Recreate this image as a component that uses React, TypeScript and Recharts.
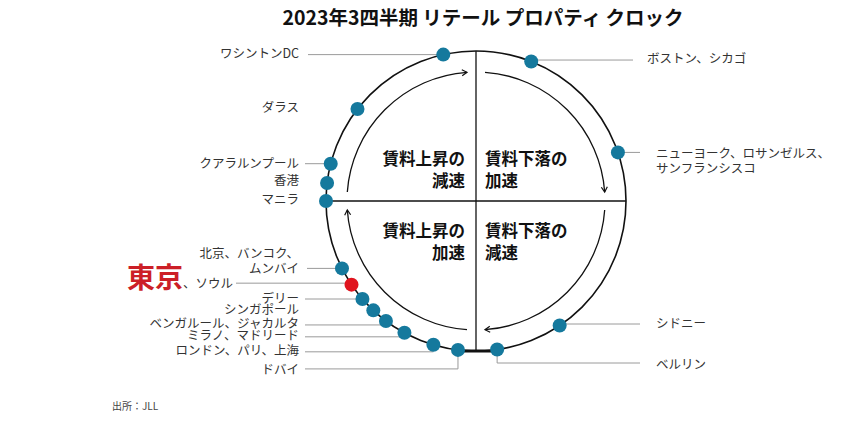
import React from 'react';
import { ScatterChart, Scatter, XAxis, YAxis } from 'recharts';

// city groups, clockwise from 12 o'clock
const CITY_NAMES = [
  'ボストン、シカゴ',
  'ニューヨーク、ロサンゼルス、サンフランシスコ',
  'シドニー',
  'ベルリン',
  'ドバイ',
  'ロンドン、パリ、上海',
  'ミラノ、マドリード',
  'ベンガルール、ジャカルタ',
  'シンガポール',
  'デリー',
  '東京、ソウル',
  '北京、バンコク、ムンバイ',
  'マニラ',
  '香港',
  'クアラルンプール',
  'ダラス',
  'ワシントンDC',
];
// position on the clock face, in hours (0-12)
const CLOCK_HOURS = [0.72, 2.37, 4.87, 5.73, 6.23, 6.55, 6.95, 7.23, 7.44, 7.64, 7.87, 8.11, 9.0, 9.23, 9.48, 10.26, 11.58];
const HIGHLIGHT = '東京、ソウル';

const QUADRANTS = [
  ['賃料上昇の', '減速'],
  ['賃料下落の', '加速'],
  ['賃料上昇の', '加速'],
  ['賃料下落の', '減速'],
];
const TITLE = '2023年3四半期 リテール プロパティ クロック';
const SOURCE = '出所：JLL';

const W = 842;
const H = 423;
const CX = 476;
const CY = 201;
const R = 150;
const INNER_R = 129;
const FONT = "'Noto Sans CJK JP', 'Noto Sans', sans-serif";
const DOT = '#15799d';
const RED = '#e0141e';
const LEADER = '#9a9a9a';
const LEFT_TEXT_X = 299;
const RIGHT_TEXT_X = 656;

type Layout = {
  side: 'L' | 'R';
  lines: string[];
  textDy: number;
  textX?: number;
  lineDy?: number;
  lineX?: number;
  bend?: number;
  accent?: string;
};

const LAYOUT: Record<string, Layout> = {
  'ワシントンDC': { side: 'L', lines: ['ワシントンDC'], textDy: -2.5, lineDy: 0, lineX: 308 },
  'ボストン、シカゴ': { side: 'R', lines: ['ボストン、シカゴ'], textX: 647, textDy: -4, lineDy: -1.5, lineX: 633 },
  'ニューヨーク、ロサンゼルス、サンフランシスコ': {
    side: 'R',
    lines: ['ニューヨーク、ロサンゼルス、', 'サンフランシスコ'],
    textDy: 0,
    lineDy: 0,
    lineX: 640,
  },
  'シドニー': { side: 'R', lines: ['シドニー'], textDy: -3, lineDy: -1.5, lineX: 640 },
  'ベルリン': { side: 'R', lines: ['ベルリン'], textDy: 13.5, bend: 13.5, lineX: 640 },
  'ドバイ': { side: 'L', lines: ['ドバイ'], textDy: 19, bend: 19, lineX: 305 },
  'ロンドン、パリ、上海': { side: 'L', lines: ['ロンドン、パリ、上海'], textDy: 5, lineDy: 7, lineX: 305 },
  'ミラノ、マドリード': { side: 'L', lines: ['ミラノ、マドリード'], textDy: 2, lineDy: 4, lineX: 305 },
  'ベンガルール、ジャカルタ': { side: 'L', lines: ['ベンガルール、ジャカルタ'], textDy: 2, lineDy: 4, lineX: 305 },
  'シンガポール': { side: 'L', lines: ['シンガポール'], textDy: -2 },
  'デリー': { side: 'L', lines: ['デリー'], textDy: -2, lineDy: 0, lineX: 305 },
  '東京、ソウル': { side: 'L', lines: ['、ソウル'], accent: '東京', textX: 233, textDy: 3.5, lineDy: -1.5, lineX: 236 },
  '北京、バンコク、ムンバイ': { side: 'L', lines: ['北京、バンコク、', 'ムンバイ'], textDy: -16, lineDy: 0, lineX: 307 },
  'マニラ': { side: 'L', lines: ['マニラ'], textDy: -3 },
  '香港': { side: 'L', lines: ['香港'], textDy: -3 },
  'クアラルンプール': { side: 'L', lines: ['クアラルンプール'], textDy: -1.5, lineDy: 0, lineX: 305 },
  'ダラス': { side: 'L', lines: ['ダラス'], textDy: -3 },
};

const points = CITY_NAMES.map((name, i) => {
  const a = (CLOCK_HOURS[i] / 12) * 2 * Math.PI;
  return { name, hour: CLOCK_HOURS[i], x: Math.sin(a), y: Math.cos(a) };
});

const ClockFrame = (props: any) => {
  const { cx, cy } = props;
  const pt = (r: number, deg: number) => {
    const a = (deg * Math.PI) / 180;
    return [cx + r * Math.sin(a), cy - r * Math.cos(a)];
  };
  const arcs = [0, 90, 180, 270].map((q) => {
    const [x1, y1] = pt(INNER_R, q + 4);
    const [x2, y2] = pt(INNER_R, q + 86);
    return `M${x1},${y1} A${INNER_R},${INNER_R} 0 0 1 ${x2},${y2}`;
  });
  const qText = { fontFamily: FONT, fontSize: 16.5, fontWeight: 700, fill: '#111' };
  const qPos = [
    { x: cx - 11, y: cy - 43, anchor: 'end' },
    { x: cx + 9, y: cy - 43, anchor: 'start' },
    { x: cx - 11, y: cy + 29, anchor: 'end' },
    { x: cx + 9, y: cy + 29, anchor: 'start' },
  ];
  return (
    <g>
      <defs>
        <marker id="clock-arrow" markerWidth={8} markerHeight={8} refX={6} refY={4} orient="auto" markerUnits="userSpaceOnUse">
          <path d="M1,1 L6,4 L1,7" fill="none" stroke="#111" strokeWidth={1.2} />
        </marker>
      </defs>
      <circle cx={cx} cy={cy} r={R} fill="none" stroke="#111" strokeWidth={1.6} />
      <line x1={cx} y1={cy - R} x2={cx} y2={cy + R} stroke="#111" strokeWidth={1.3} />
      <line x1={cx - R} y1={cy} x2={cx + R} y2={cy} stroke="#111" strokeWidth={1.3} />
      <line x1={cx - 16} y1={cy + R} x2={cx + 19} y2={cy + R} stroke="#111" strokeWidth={3} />
      {arcs.map((d, i) => (
        <path key={i} d={d} fill="none" stroke="#111" strokeWidth={1.3} markerEnd="url(#clock-arrow)" />
      ))}
      {QUADRANTS.map((lines, i) => (
        <text key={i} textAnchor={qPos[i].anchor as any} {...qText}>
          {lines.map((t, j) => (
            <tspan key={j} x={qPos[i].x} y={qPos[i].y + j * 22} dominantBaseline="central">
              {t}
            </tspan>
          ))}
        </text>
      ))}
    </g>
  );
};

const CityLabel = (props: any) => {
  const { cx, cy, payload } = props;
  const lay = LAYOUT[payload.name];
  if (!lay) return <g />;
  const left = lay.side === 'L';
  const tx = lay.textX ?? (left ? LEFT_TEXT_X : RIGHT_TEXT_X);
  const txt = { fontFamily: FONT, fontSize: 12.5, fill: '#333' };
  let leader = null;
  if (lay.bend !== undefined && lay.lineX !== undefined) {
    leader = (
      <polyline
        points={`${cx},${cy} ${cx},${cy + lay.bend} ${lay.lineX},${cy + lay.bend}`}
        fill="none"
        stroke={LEADER}
        strokeWidth={1}
      />
    );
  } else if (lay.lineDy !== undefined && lay.lineX !== undefined) {
    leader = <line x1={lay.lineX} y1={cy + lay.lineDy} x2={cx} y2={cy + lay.lineDy} stroke={LEADER} strokeWidth={1} />;
  }
  if (lay.accent) {
    return (
      <g>
        {leader}
        <text x={tx} y={cy + lay.textDy} textAnchor="end" {...txt}>
          <tspan fontSize={28} fontWeight={700} fill="#cc1f27">
            {lay.accent}
          </tspan>
          <tspan>{lay.lines[0]}</tspan>
        </text>
      </g>
    );
  }
  return (
    <g>
      {leader}
      {lay.lines.map((t, j) => (
        <text
          key={j}
          x={tx}
          y={cy + lay.textDy + j * 15}
          textAnchor={left ? 'end' : 'start'}
          dominantBaseline="central"
          {...txt}
        >
          {t}
        </text>
      ))}
    </g>
  );
};

const CityDot = (props: any) => {
  const { cx, cy, payload } = props;
  return <circle cx={cx} cy={cy} r={7} fill={payload.name === HIGHLIGHT ? RED : DOT} />;
};

export default function App() {
  return (
    <div style={{ position: 'absolute', left: 0, top: 0, width: W, height: H, background: '#fff', fontFamily: FONT }}>
      <ScatterChart width={W} height={H} margin={{ top: 0, right: 0, bottom: 0, left: 0 }}>
        <XAxis type="number" dataKey="x" domain={[-CX / R, (W - CX) / R]} allowDataOverflow hide />
        <YAxis type="number" dataKey="y" domain={[-(H - CY) / R, CY / R]} allowDataOverflow hide />
        <Scatter data={[{ x: 0, y: 0 }]} shape={ClockFrame} isAnimationActive={false} />
        <Scatter data={points} shape={CityLabel} isAnimationActive={false} />
        <Scatter data={points} shape={CityDot} isAnimationActive={false} />
      </ScatterChart>
      <div
        style={{
          position: 'absolute',
          left: 183,
          top: 5,
          width: 600,
          textAlign: 'center',
          fontSize: 19.5,
          lineHeight: '24px',
          fontWeight: 700,
          color: '#111',
          whiteSpace: 'nowrap',
        }}
      >
        {TITLE}
      </div>
      <div style={{ position: 'absolute', left: 112, top: 400, fontSize: 10, lineHeight: '12px', color: '#444' }}>
        {SOURCE}
      </div>
    </div>
  );
}
